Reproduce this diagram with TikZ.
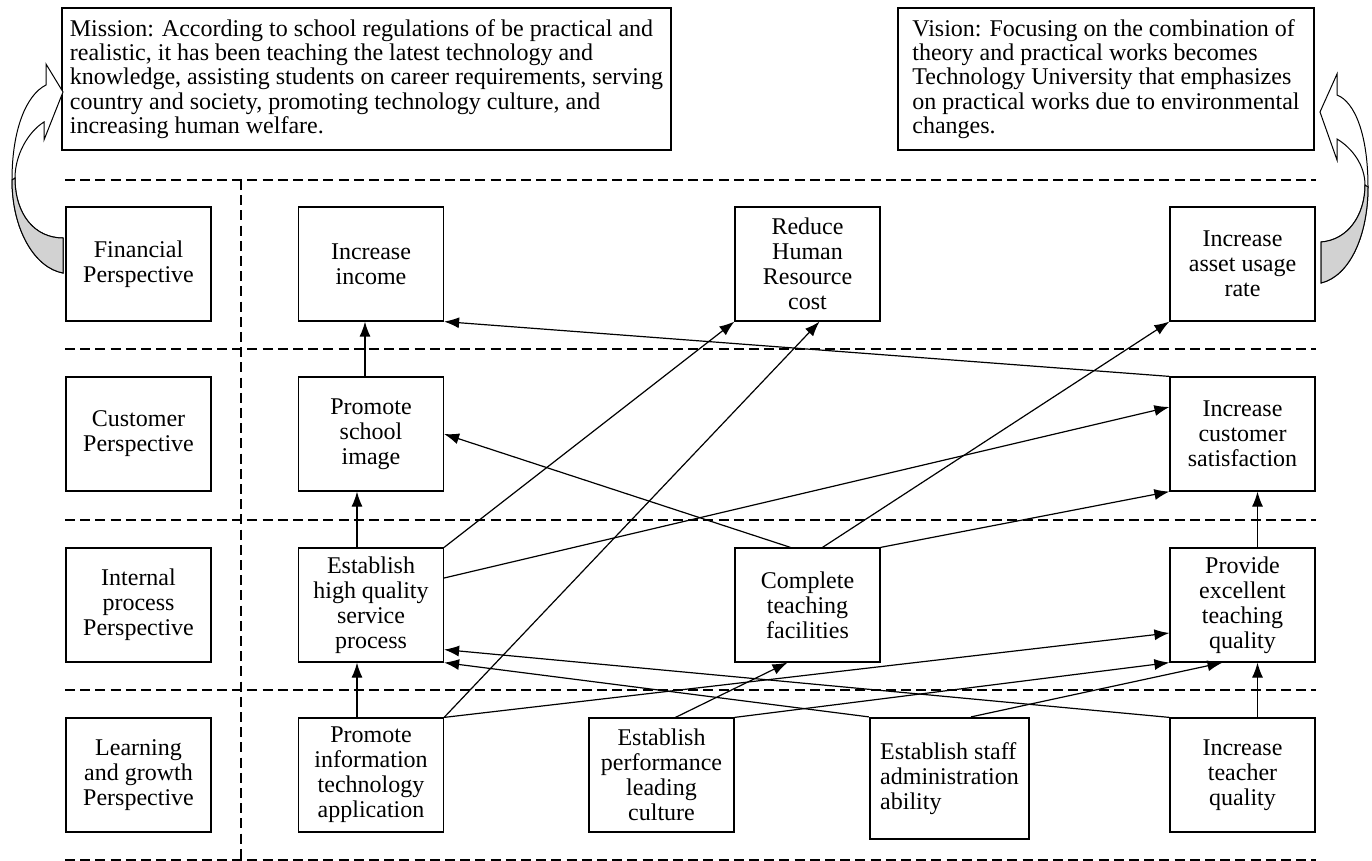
\documentclass[tikz,border=0pt]{standalone}
\usepackage{fontspec}
\setmainfont{Liberation Serif}
\usetikzlibrary{arrows.meta}

\begin{document}
\begin{tikzpicture}[x=0.5pt, y=-0.5pt,
    box/.style={draw, rectangle, line width=0.6pt, minimum width=72.5pt, minimum height=57pt, align=center, inner sep=2pt, font=\fontsize{12}{12.5}\selectfont},
    note/.style={draw, rectangle, line width=0.6pt, align=left, inner sep=4pt, minimum height=71pt, font=\fontsize{12}{12.2}\selectfont},
    zone/.style={line width=1pt, dash pattern=on 5pt off 2.6pt},
    link/.style={-{Latex[length=7.5pt,width=5.5pt]}, line width=0.6pt},
    curl/.style={draw, line width=0.5pt, fill=white}]
    \useasboundingbox (0,0) rectangle (1372,861);

    % mission and vision
    \node[note, minimum width=301.5pt] (mission) at (366.5,79) {Mission: According to school regulations of be practical and\\realistic, it has been teaching the latest technology and\\knowledge, assisting students on career requirements, serving\\country and society, promoting technology culture, and\\increasing human welfare.};
    \node[note, minimum width=208pt] (vision) at (1106,79) {Vision: Focusing on the combination of\\theory and practical works becomes\\Technology University that emphasizes\\on practical works due to environmental\\changes.};

    % perspective bands
    \foreach \y in {180,349.5,520,690,860}
        \draw[zone] (65,\y) -- (1316,\y);
    \draw[zone] (240.5,180) -- (240.5,860);

    \node[box] (fin) at (138.5,264) {Financial\\Perspective};
    \node[box] (cus) at (138.5,434) {Customer\\Perspective};
    \node[box] (ipp) at (138.5,605) {Internal\\process\\Perspective};
    \node[box] (lgp) at (138.5,775) {Learning\\and growth\\Perspective};

    % objectives
    \node[box] (inc) at (371,264) {Increase\\income};
    \node[box] (hr) at (807.5,264) {Reduce\\Human\\Resource\\cost};
    \node[box] (asset) at (1242.5,264) {Increase\\asset usage\\rate};
    \node[box] (img) at (371,434) {Promote\\school\\image};
    \node[box] (csat) at (1242.5,434) {Increase\\customer\\satisfaction};
    \node[box] (svc) at (371,605) {Establish\\high quality\\service\\process};
    \node[box] (fac) at (807.5,605) {Complete\\teaching\\facilities};
    \node[box] (tq) at (1242.5,605) {Provide\\excellent\\teaching\\quality};
    \node[box] (it) at (371,775) {Promote\\information\\technology\\application};
    \node[box] (perf) at (661.5,775) {Establish\\performance\\leading\\culture};
    \node[box, align=left, line width=1.1pt, minimum width=79.5pt, minimum height=60.5pt] (adm) at (949.5,778.5) {Establish staff\\administration\\ability};
    \node[box] (tch) at (1242.5,775) {Increase\\teacher\\quality};

    % cause and effect
    \draw[link] ([xshift=-3pt]img.north) -- ([xshift=-3pt]inc.south);
    \draw[link] ([xshift=-7pt]svc.north) -- ([xshift=-7pt]img.south);
    \draw[link] ([xshift=-7pt]it.north) -- ([xshift=-7pt]svc.south);
    \draw[link] ([xshift=7.5pt]tq.north) -- ([xshift=7.5pt]csat.south);
    \draw[link] ([xshift=7.5pt]tch.north) -- ([xshift=7.5pt]tq.south);
    \draw[link] (csat.north west) -- (inc.south east);
    \draw[link] (svc.north east) -- (hr.south west);
    \draw[link] (it.north east) -- ([xshift=6pt]hr.south);
    \draw[link] ([xshift=-8.5pt]fac.north) -- (img.east);
    \draw[link] ([xshift=7.5pt]fac.north) -- (asset.south west);
    \draw[link] ([yshift=13.5pt]svc.east) -- ([yshift=13.5pt]csat.west);
    \draw[link] (fac.north east) -- (csat.south west);
    \draw[link] (it.north east) -- ([yshift=-14pt]tq.west);
    \draw[link] ([xshift=7pt]perf.north) -- ([xshift=-10pt]fac.south);
    \draw[link] (perf.north east) -- (tq.south west);
    \draw[link] ([xshift=10.75pt]adm.north) -- ([xshift=-10pt]tq.south);
    \draw[link] (adm.north west) -- (svc.south east);
    \draw[link] (tch.north west) -- ([yshift=6.5pt]svc.south east);

    % curved arrows
    \draw[curl] (63,273) .. controls (35,268) and (12,230) .. (12,180)
        .. controls (12,130) and (26,95) .. (46,85) -- (46,64) -- (63,92) -- (44,140) -- (44,122)
        .. controls (28,132) and (15,155) .. (15,178)
        .. controls (15,215) and (35,238) .. (63,238) -- cycle;
    \filldraw[fill=gray!35, line width=0.5pt] (63,273) .. controls (35,268) and (12,230) .. (12,180)
        -- (15,178) .. controls (15,215) and (35,238) .. (63,238) -- cycle;
    \draw[curl] (1321,283) .. controls (1350,276) and (1368,235) .. (1368,187)
        .. controls (1368,135) and (1355,102) .. (1337,95) -- (1337,74) -- (1320,112) -- (1337,160) -- (1337,139)
        .. controls (1352,148) and (1365,165) .. (1365,185)
        .. controls (1365,215) and (1348,240) .. (1321,242) -- cycle;
    \filldraw[fill=gray!35, line width=0.5pt] (1321,283) .. controls (1350,276) and (1368,235) .. (1368,187)
        -- (1365,185) .. controls (1365,215) and (1348,240) .. (1321,242) -- cycle;
\end{tikzpicture}
\end{document}
